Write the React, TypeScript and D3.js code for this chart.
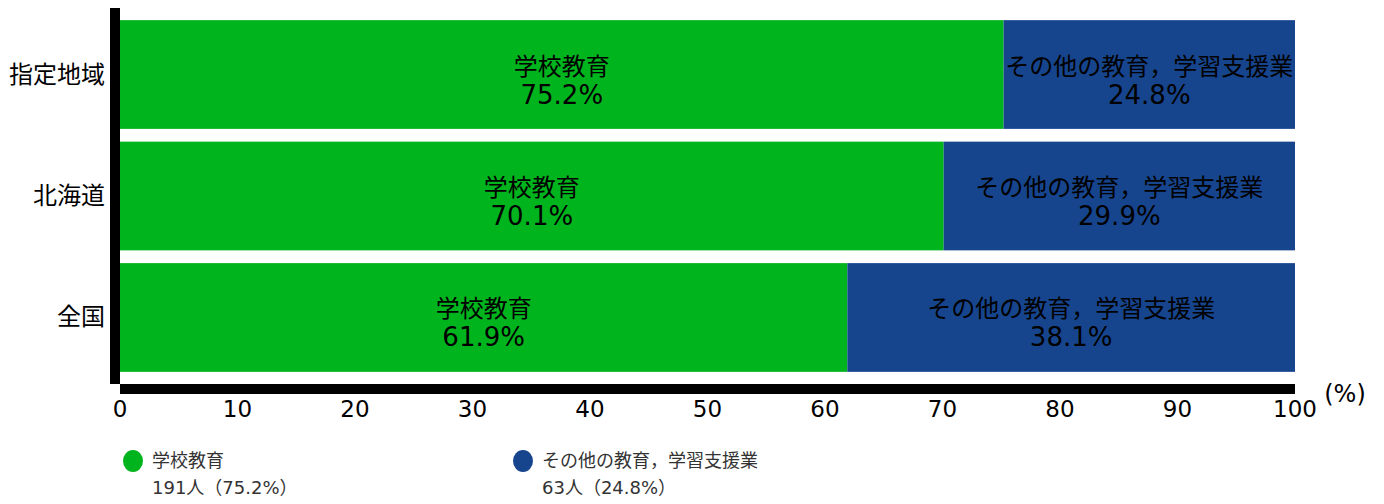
import React from "react";
import * as d3 from "d3";

const categories = ["指定地域", "北海道", "全国"];
const seriesNames = ["学校教育", "その他の教育，学習支援業"];
const schoolValues = [75.2, 70.1, 61.9];
const otherValues = [24.8, 29.9, 38.1];
const seriesColors = ["#00b41e", "#17458d"];
const xTicks = [0, 10, 20, 30, 40, 50, 60, 70, 80, 90, 100];
const legendCounts = ["191人（75.2%）", "63人（24.8%）"];

const FONT = "'DejaVu Sans', 'Noto Sans CJK JP', sans-serif";

export default function App() {
  const W = 1384, H = 504;
  const x = d3.scaleLinear().domain([0, 100]).range([120, 1295]);
  const y = d3.scaleBand().domain(categories).range([8, 384]).paddingInner(0.105).paddingOuter(0.1);
  const rows = categories.map((c, i) => ({ c, vals: [schoolValues[i], otherValues[i]] }));
  return (
    <svg width={W} height={H} style={{ position: "absolute", left: 0, top: 0, fontFamily: FONT }}>
      {rows.map((r) => {
        let acc = 0;
        return r.vals.map((v, j) => {
          const x0 = x(acc);
          acc += v;
          const x1 = x(acc);
          const yy = y(r.c)!;
          const bh = y.bandwidth();
          const cx = (x0 + x1) / 2;
          const cy = yy + bh / 2;
          return (
            <g key={r.c + j}>
              <rect x={x0} y={yy} width={x1 - x0} height={bh} fill={seriesColors[j]} />
              <text x={cx} y={cy - 8} textAnchor="middle" dominantBaseline="central" fontSize={24} fill="#000">{seriesNames[j]}</text>
              <text x={cx} y={cy + 20} textAnchor="middle" dominantBaseline="central" fontSize={26} fill="#000">{v.toFixed(1)}%</text>
            </g>
          );
        });
      })}
      {categories.map((c) => (
        <text key={c} x={105} y={y(c)! + y.bandwidth() / 2} textAnchor="end" dominantBaseline="central" fontSize={24} fill="#000">{c}</text>
      ))}
      <rect x={110} y={8} width={10} height={376} fill="#000" />
      <rect x={120} y={384} width={x(100) - 120} height={10} fill="#000" />
      {xTicks.map((t) => (
        <text key={t} x={x(t)} y={409} textAnchor="middle" dominantBaseline="central" fontSize={23} fill="#000">{t}</text>
      ))}
      <text x={1345} y={394} textAnchor="middle" dominantBaseline="central" fontSize={24} fill="#000">(%)</text>
      {seriesNames.map((n, i) => {
        const lx = i === 0 ? 133 : 523;
        return (
          <g key={n}>
            <ellipse cx={lx} cy={461} rx={10} ry={11} fill={seriesColors[i]} />
            <text x={lx + 19} y={460} dominantBaseline="central" fontSize={18} fill="#333">{n}</text>
            <text x={lx + 19} y={487} dominantBaseline="central" fontSize={18} fill="#333">{legendCounts[i]}</text>
          </g>
        );
      })}
    </svg>
  );
}
